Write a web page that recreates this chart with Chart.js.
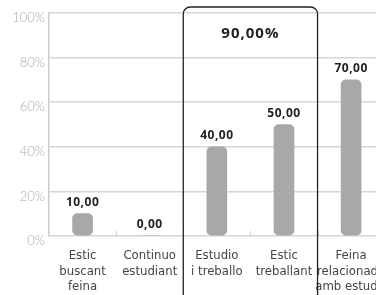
<!DOCTYPE html>
<html>
<head>
<meta charset="utf-8">
<script src="https://cdn.jsdelivr.net/npm/chart.js@4/dist/chart.umd.min.js"></script>
<style>
  html, body { margin: 0; padding: 0; background: #fff; overflow: hidden; }
  #wrap { width: 391px; height: 295px; position: relative; }
</style>
</head>
<body>
<div id="wrap"><canvas id="chart"></canvas></div>
<script>
const categories = [
    ['Estic', 'buscant', 'feina'],
    ['Continuo', 'estudiant'],
    ['Estudio', 'i treballo'],
    ['Estic', 'treballant'],
    ['Feina', 'relacionada', 'amb estudis']
];
const values = [10, 0, 40, 50, 70];
const yTicks = [0, 20, 40, 60, 80, 100];
const boxLabel = '90,00%';

function fmt(v) {
    return v.toFixed(2).replace('.', ',');
}

const extras = {
    id: 'extras',
    afterDatasetsDraw(chart) {
        const ctx = chart.ctx;
        const x = chart.scales.x;
        const area = chart.chartArea;
        const meta = chart.getDatasetMeta(0);

        // value labels
        ctx.save();
        ctx.font = '700 12px "Open Sans"';
        ctx.fillStyle = '#222';
        ctx.textAlign = 'center';
        ctx.textBaseline = 'middle';
        ctx.letterSpacing = '0.5px';
        meta.data.forEach((bar, i) => {
            ctx.fillText(fmt(values[i]), bar.x, bar.y - 11);
        });
        ctx.restore();

        // small tick marks between categories
        const edge = i => (x.getPixelForValue(i) + x.getPixelForValue(i + 1)) / 2;
        ctx.save();
        ctx.strokeStyle = '#cfcfcf';
        ctx.lineWidth = 1;
        for (let i = 0; i < categories.length - 1; i++) {
            const px = Math.round(edge(i)) + 0.5;
            ctx.beginPath();
            ctx.moveTo(px, area.bottom - 5);
            ctx.lineTo(px, area.bottom);
            ctx.stroke();
        }
        ctx.restore();

        // highlight box around categories 2 and 3
        const left = edge(1), right = edge(3);
        const top = 7, r = 7, bottom = chart.height + 5;
        ctx.save();
        ctx.strokeStyle = '#222';
        ctx.lineWidth = 1.3;
        ctx.beginPath();
        ctx.moveTo(left, bottom);
        ctx.lineTo(left, top + r);
        ctx.arcTo(left, top, left + r, top, r);
        ctx.lineTo(right - r, top);
        ctx.arcTo(right, top, right, top + r, r);
        ctx.lineTo(right, bottom);
        ctx.stroke();
        ctx.font = '700 15px "Open Sans"';
        ctx.fillStyle = '#222';
        ctx.textAlign = 'center';
        ctx.textBaseline = 'middle';
        ctx.letterSpacing = '1px';
        ctx.fillText(boxLabel, (left + right) / 2, 34);
        ctx.restore();
    }
};

new Chart(document.getElementById('chart').getContext('2d'), {
    type: 'bar',
    data: {
        labels: categories,
        datasets: [{
            data: values,
            backgroundColor: '#a8a8ab',
            borderRadius: 5,
            borderSkipped: false,
            barThickness: 20
        }]
    },
    options: {
        responsive: true,
        maintainAspectRatio: false,
        animation: false,
        layout: { padding: { top: 13, right: 0, left: 0, bottom: 0 } },
        plugins: {
            legend: { display: false },
            tooltip: { enabled: false }
        },
        scales: {
            x: {
                grid: { display: false },
                border: { display: false },
                ticks: {
                    color: '#444',
                    padding: 4,
                    maxRotation: 0,
                    autoSkip: false,
                    font: { family: '"Liberation Sans Narrow", "DejaVu Sans Condensed", sans-serif', size: 13 }
                },
                afterFit(scale) { scale.height = 59; }
            },
            y: {
                min: 0,
                max: 100,
                afterBuildTicks(scale) {
                    scale.ticks = yTicks.map(v => ({ value: v }));
                },
                grid: { color: '#d6d6d6', lineWidth: 1.5, drawTicks: false },
                border: { display: true, color: '#cccccc', width: 1.5 },
                ticks: {
                    color: '#aaaaaa',
                    padding: 4,
                    labelOffset: 5,
                    font: { family: 'Lato', weight: 300, size: 13 },
                    callback: v => v + '%'
                },
                afterFit(scale) { scale.width = 49; }
            }
        }
    },
    plugins: [extras]
});
</script>
</body>
</html>
